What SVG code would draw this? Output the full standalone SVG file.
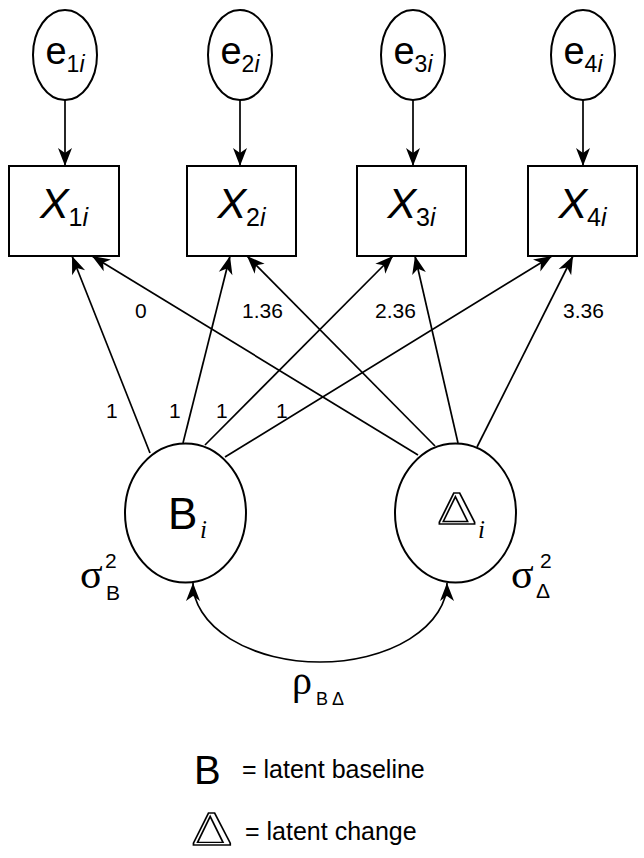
<svg xmlns="http://www.w3.org/2000/svg" width="644" height="858" viewBox="0 0 644 858">
<style>
.nd{fill:#fff;stroke:#000;stroke-width:2}
.ln{fill:none;stroke:#000;stroke-width:1.7}
.sans{font-family:"Liberation Sans",Arial,sans-serif;fill:#000}
.serif{font-family:"Liberation Serif","Times New Roman",serif;fill:#000}
.it{font-style:italic}
.lab{font-family:"Liberation Sans",Arial,sans-serif;font-size:21px;fill:#000}
.hollow{font-family:"Liberation Serif","Times New Roman",serif;fill:#fff;stroke:#000;stroke-width:1.3}
</style>
<defs>
<marker id="ah" viewBox="0 0 20 16" refX="19" refY="8" markerWidth="20" markerHeight="16" orient="auto-start-reverse" markerUnits="userSpaceOnUse">
<path d="M19,8 L1,1 L6,8 L1,15 Z" fill="#000"/>
</marker>
</defs>
<rect width="644" height="858" fill="#fff"/>

<g id="e1"><ellipse class="nd" cx="65" cy="55" rx="32" ry="45"/>
<text class="sans" x="65" y="64" text-anchor="middle" font-size="38">e<tspan font-size="23" dy="8">1</tspan><tspan font-size="23" class="it">i</tspan></text></g>
<g id="e2"><ellipse class="nd" cx="240" cy="55" rx="32" ry="45"/>
<text class="sans" x="240" y="64" text-anchor="middle" font-size="38">e<tspan font-size="23" dy="8">2</tspan><tspan font-size="23" class="it">i</tspan></text></g>
<g id="e3"><ellipse class="nd" cx="413" cy="55" rx="32" ry="45"/>
<text class="sans" x="413" y="64" text-anchor="middle" font-size="38">e<tspan font-size="23" dy="8">3</tspan><tspan font-size="23" class="it">i</tspan></text></g>
<g id="e4"><ellipse class="nd" cx="583" cy="55" rx="32" ry="45"/>
<text class="sans" x="583" y="64" text-anchor="middle" font-size="38">e<tspan font-size="23" dy="8">4</tspan><tspan font-size="23" class="it">i</tspan></text></g>

<g id="X1"><rect class="nd" x="9" y="166" width="110" height="90"/>
<text class="sans it" x="64" y="218" text-anchor="middle" font-size="43">X<tspan font-size="25" dy="8" font-style="normal">1</tspan><tspan font-size="25">i</tspan></text></g>
<g id="X2"><rect class="nd" x="187" y="166" width="109" height="90"/>
<text class="sans it" x="241.5" y="218" text-anchor="middle" font-size="43">X<tspan font-size="25" dy="8" font-style="normal">2</tspan><tspan font-size="25">i</tspan></text></g>
<g id="X3"><rect class="nd" x="357" y="166" width="109" height="90"/>
<text class="sans it" x="411.5" y="218" text-anchor="middle" font-size="43">X<tspan font-size="25" dy="8" font-style="normal">3</tspan><tspan font-size="25">i</tspan></text></g>
<g id="X4"><rect class="nd" x="528" y="166" width="109" height="90"/>
<text class="sans it" x="582.5" y="218" text-anchor="middle" font-size="43">X<tspan font-size="25" dy="8" font-style="normal">4</tspan><tspan font-size="25">i</tspan></text></g>

<g id="B"><ellipse class="nd" cx="185.5" cy="513" rx="60.5" ry="69.5"/>
<text class="sans" x="168" y="529" font-size="44">B</text>
<text class="serif it" x="200" y="538" font-size="25">i</text></g>
<g id="D"><ellipse class="nd" cx="455.5" cy="513" rx="60.5" ry="69.5"/>
<text class="hollow" transform="translate(437,524) scale(1.35,1)" font-size="46">Δ</text>
<text class="serif it" x="478" y="538" font-size="25">i</text></g>

<g id="connectors">
<line class="ln" x1="65" y1="100" x2="65" y2="166" marker-end="url(#ah)"/>
<line class="ln" x1="240" y1="100" x2="240" y2="166" marker-end="url(#ah)"/>
<line class="ln" x1="413" y1="100" x2="413" y2="166" marker-end="url(#ah)"/>
<line class="ln" x1="583" y1="100" x2="583" y2="166" marker-end="url(#ah)"/>
<line class="ln" x1="150" y1="453" x2="72" y2="256" marker-end="url(#ah)"/>
<line class="ln" x1="183" y1="443" x2="230" y2="256" marker-end="url(#ah)"/>
<line class="ln" x1="205" y1="445" x2="393" y2="256" marker-end="url(#ah)"/>
<line class="ln" x1="225" y1="457" x2="552" y2="256" marker-end="url(#ah)"/>
<line class="ln" x1="418" y1="455" x2="92" y2="256" marker-end="url(#ah)"/>
<line class="ln" x1="435" y1="446" x2="247" y2="256" marker-end="url(#ah)"/>
<line class="ln" x1="458" y1="443" x2="415" y2="256" marker-end="url(#ah)"/>
<line class="ln" x1="477" y1="447" x2="573" y2="256" marker-end="url(#ah)"/>
<path class="ln" d="M193,583 A127,79 0 0 0 447,583" marker-start="url(#ah)" marker-end="url(#ah)"/>
</g>

<g id="labels">
<text class="lab" x="135" y="318">0</text>
<text class="lab" x="242" y="318">1.36</text>
<text class="lab" x="375" y="318">2.36</text>
<text class="lab" x="563" y="318">3.36</text>
<text class="lab" x="106" y="418">1</text>
<text class="lab" x="169" y="418">1</text>
<text class="lab" x="216" y="418">1</text>
<text class="lab" x="276" y="418">1</text>
</g>

<g id="variances">
<text class="serif" x="80" y="588" font-size="42">σ</text>
<text class="sans" x="105" y="568" font-size="21">2</text>
<text class="sans" x="106" y="600" font-size="21">B</text>
<text class="serif" x="511" y="588" font-size="42">σ</text>
<text class="sans" x="540" y="568" font-size="21">2</text>
<text class="sans" x="536" y="598" font-size="21">Δ</text>
<text class="serif" x="292" y="694" font-size="40">ρ</text>
<text class="sans" x="316" y="705" font-size="18">B</text>
<text class="sans" x="332" y="705" font-size="18">Δ</text>
</g>

<g id="legend">
<text class="sans" x="194" y="784" font-size="40">B</text>
<text class="sans" x="242" y="778" font-size="25">= latent baseline</text>
<text class="hollow" transform="translate(191,845) scale(1.35,1)" font-size="48">Δ</text>
<text class="sans" x="245" y="840" font-size="25">= latent change</text>
</g>
</svg>
